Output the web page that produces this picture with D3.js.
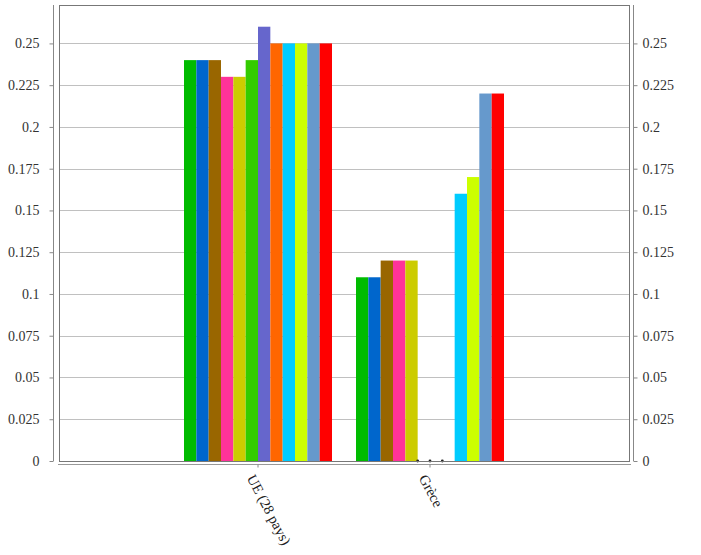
<!DOCTYPE html>
<html><head><meta charset="utf-8">
<script src="https://cdn.jsdelivr.net/npm/d3@7"></script>
<style>body{margin:0;background:#fff}</style>
</head><body>
<svg id="c" width="701" height="555"></svg>
<script>
const categories = ["UE (28 pays)", "Grèce"];
const seriesNames = ["s1","s2","s3","s4","s5","s6","s7","s8","s9","s10","s11","s12"];
const seriesColors = ["#00BB00","#0066CC","#996600","#FF3399","#CCCC00","#33CC00","#6666CC","#FF6600","#00CCFF","#CCFF00","#6699CC","#FF0000"];
const valuesUE =    [0.24,0.24,0.24,0.23,0.23,0.24,0.26,0.25,0.25,0.25,0.25,0.25];
const valuesGrece = [0.11,0.11,0.12,0.12,0.12,null,null,null,0.16,0.17,0.22,0.22];
const yTicks = [0,0.025,0.05,0.075,0.1,0.125,0.15,0.175,0.2,0.225,0.25];
const yMax = 0.273;

const values = [valuesUE, valuesGrece];
const svg = d3.select("#c");
const pLeft = 59, pRight = 630, pTop = 5, pBottom = 461;
const y = d3.scaleLinear().domain([0, yMax]).range([pBottom, pTop]);
const x0 = d3.scaleBand().domain(categories).range([172, 516]);
const x1 = d3.scaleBand().domain(seriesNames).range([12, x0.bandwidth() - 12]);
const font = "'Liberation Serif', 'Times New Roman', serif";

// gridlines
svg.append("g").selectAll("line").data(yTicks.filter(d => d > 0)).join("line")
  .attr("x1", pLeft).attr("x2", pRight)
  .attr("y1", d => Math.round(y(d)) + 0.5).attr("y2", d => Math.round(y(d)) + 0.5)
  .attr("stroke", "#c0c0c0").attr("stroke-width", 1);

// bars
categories.forEach((c, ci) => {
  const g = svg.append("g").attr("transform", `translate(${x0(c)},0)`);
  values[ci].forEach((v, si) => {
    if (v === null) {
      g.append("circle").attr("cx", x1(seriesNames[si])).attr("cy", pBottom)
        .attr("r", 1.4).attr("fill", "#222");
    } else {
      g.append("rect").attr("x", x1(seriesNames[si])).attr("width", x1.bandwidth())
        .attr("y", y(v)).attr("height", pBottom - y(v)).attr("fill", seriesColors[si]);
    }
  });
});

// frame
svg.append("rect").attr("x", pLeft + 0.5).attr("y", pTop + 0.5)
  .attr("width", pRight - pLeft - 1).attr("height", pBottom - pTop)
  .attr("fill", "none").attr("stroke", "#777");

// left axis
const la = svg.append("g").attr("transform", "translate(53.5,0)")
  .call(d3.axisLeft(y).tickValues(yTicks).tickFormat(d3.format("")).tickSize(4).tickSizeOuter(0).tickPadding(10));
la.select(".domain").attr("stroke", "#888").attr("d", `M0,${pTop}V${pBottom}`);
la.selectAll(".tick line").attr("stroke", "#888");
la.selectAll("text").attr("font-family", font).attr("font-size", 14).attr("fill", "#333");

// right axis
const ra = svg.append("g").attr("transform", "translate(633.5,0)")
  .call(d3.axisRight(y).tickValues(yTicks).tickFormat(d3.format("")).tickSize(4).tickSizeOuter(0).tickPadding(5));
ra.select(".domain").attr("stroke", "#888").attr("d", `M0,${pTop}V${pBottom}`);
ra.selectAll(".tick line").attr("stroke", "#888");
ra.selectAll("text").attr("font-family", font).attr("font-size", 14).attr("fill", "#333");

// bottom axis
const ba = svg.append("g").attr("transform", "translate(0,464.5)")
  .call(d3.axisBottom(x0).tickSize(3).tickSizeOuter(0).tickFormat(""));
ba.select(".domain").attr("stroke", "#999").attr("d", `M${pLeft - 1},0H${pRight + 1}`);
ba.selectAll(".tick line").attr("stroke", "#888");
ba.selectAll(".tick").append("text")
  .attr("transform", "translate(-7,11) rotate(62)")
  .attr("text-anchor", "start").attr("dy", "0.35em")
  .attr("font-family", font).attr("font-size", 14.5).attr("fill", "#222")
  .text(d => d);
</script>
</body></html>
